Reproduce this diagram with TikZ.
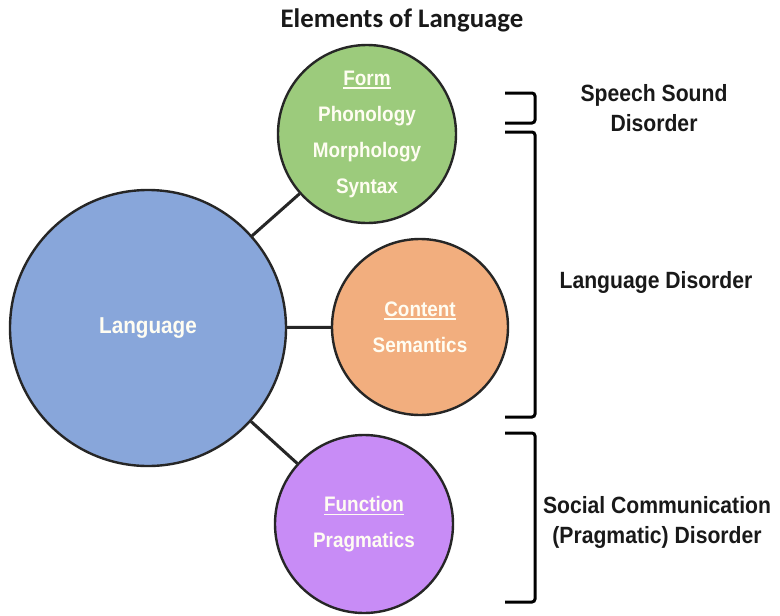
\documentclass[tikz,border=0pt]{standalone}
\usepackage{fontspec}
\setmainfont{Liberation Sans}[FakeStretch=0.9]
\newfontfamily\titlefont{Carlito}
\definecolor{langblue}{HTML}{88A6DA}
\definecolor{formgreen}{HTML}{9CCB7C}
\definecolor{contentorange}{HTML}{F2AE7E}
\definecolor{funcpurple}{HTML}{C88CF6}
\definecolor{inktext}{HTML}{FFFDF2}
\newcommand\myul[1]{\setbox0\hbox{#1}\rlap{\rule[-3.5pt]{\wd0}{1.3pt}}\box0}
\begin{document}
\begin{tikzpicture}[x=1pt,y=-1pt,
  bubble/.style={circle, draw=black!85, line width=2.4pt, inner sep=0pt, text=inktext,
    font=\fontsize{21}{36}\selectfont\bfseries, align=center},
  link/.style={draw=black!85, line width=3pt},
  brk/.style={draw=black, line width=3pt, rounded corners=3pt},
  lbl/.style={font=\fontsize{23.5}{30}\selectfont\bfseries, align=center, text=black!90}]
\fill[white] (0,0) rectangle (780,616);
\useasboundingbox (0,0) rectangle (780,616);
\node[font=\titlefont\fontsize{26.8}{30}\selectfont\bfseries, text=black!90] (title) at (402,20) {Elements of Language};
\node[bubble, fill=langblue, minimum size=276pt, font=\fontsize{23}{28}\selectfont\bfseries] (lang) at (148,328) {Language};
\node[bubble, fill=formgreen, minimum size=178pt] (form) at (367,134) {\myul{Form}\\Phonology\\Morphology\\Syntax};
\node[bubble, fill=contentorange, minimum size=176pt] (content) at (420,327) {\myul{Content}\\Semantics};
\node[bubble, fill=funcpurple, minimum size=178pt] (func) at (364,524) {\myul{Function}\\Pragmatics};
\draw[link] (lang) -- (form);
\draw[link] (lang) -- (content);
\draw[link] (lang) -- (func);
\draw[brk] (505,93) -- (535,93) -- (535,123) -- (505,123);
\draw[brk] (505,132) -- (535,132) -- (535,417) -- (505,417);
\draw[brk] (505,433) -- (535,433) -- (535,602) -- (505,602);
\node[lbl] (ssd) at (654,108) {Speech Sound\\Disorder};
\node[lbl] (ld) at (656,282) {Language Disorder};
\node[lbl] (scd) at (657,522) {Social Communication\\(Pragmatic) Disorder};
\end{tikzpicture}
\end{document}
